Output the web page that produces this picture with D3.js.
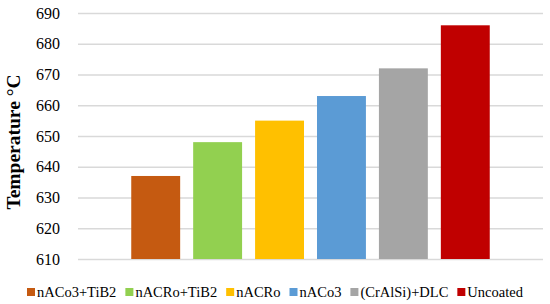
<!DOCTYPE html>
<html>
<head>
<meta charset="utf-8">
<script src="https://cdn.jsdelivr.net/npm/d3@7"></script>
<style>
  body { margin: 0; background: #fff; }
</style>
</head>
<body>
<div id="chart"></div>
<script>
// Data
var coatings = ["nACo3+TiB2", "nACRo+TiB2", "nACRo", "nACo3", "(CrAlSi)+DLC", "Uncoated"];
var temps    = [637, 648, 655, 663, 672, 686];
var colors   = ["#C55A11", "#92D050", "#FFC000", "#5B9BD5", "#A5A5A5", "#C00000"];
var yTicks   = [610, 620, 630, 640, 650, 660, 670, 680, 690];

var FONT = "'Liberation Serif', 'DejaVu Serif', serif";
var W = 550, H = 304;
var M = {left: 78, right: 7, top: 13, bottom: 45};

var svg = d3.select("#chart").append("svg")
    .attr("width", W)
    .attr("height", H);

var x = d3.scaleBand()
    .domain(coatings)
    .range([M.left, W - M.right])
    .paddingInner(0.21)
    .paddingOuter(0.86);
var y = d3.scaleLinear()
    .domain([610, 690])
    .range([H - M.bottom, M.top]);

// gridlines + tick labels
var yAxis = d3.axisLeft(y)
    .tickValues(yTicks)
    .tickSize(-(W - M.left - M.right))
    .tickPadding(18)
    .tickFormat(d3.format("d"));
var gy = svg.append("g")
    .attr("transform", "translate(" + M.left + ",0)")
    .call(yAxis)
    .attr("font-family", null)
    .attr("font-size", null);
gy.select(".domain").remove();
gy.selectAll(".tick line").attr("stroke", "#d9d9d9").attr("stroke-width", 1.3);
gy.selectAll(".tick text")
    .style("font-family", FONT)
    .style("font-size", "16px")
    .attr("fill", "#000");

// bars
svg.selectAll(".bar")
  .data(temps)
  .enter()
  .append("rect")
    .attr("class", "bar")
    .attr("x", function(d, i) { return x(coatings[i]); })
    .attr("width", x.bandwidth())
    .attr("y", function(d) { return y(d); })
    .attr("height", function(d) { return y(610) - y(d); })
    .attr("fill", function(d, i) { return colors[i]; });

// y label
svg.append("text")
    .attr("transform", "translate(20," + (y(650) + 6) + ") rotate(-90)")
    .attr("text-anchor", "middle")
    .style("font-family", FONT)
    .style("font-size", "19.5px")
    .style("font-weight", "bold")
    .text("Temperature °C");

// legend
var legend = svg.append("g").attr("transform", "translate(0,292)");
var lx = 27;
coatings.forEach(function(c, i) {
  var item = legend.append("g").attr("transform", "translate(" + lx + ",0)");
  item.append("rect")
      .attr("x", 0).attr("y", -4)
      .attr("width", 8).attr("height", 8)
      .attr("fill", colors[i]);
  var t = item.append("text")
      .attr("x", 10).attr("y", 5)
      .style("font-family", FONT)
      .style("font-size", "14.5px")
      .text(c);
  lx += 10 + t.node().getComputedTextLength() + 9;
});
</script>
</body>
</html>
